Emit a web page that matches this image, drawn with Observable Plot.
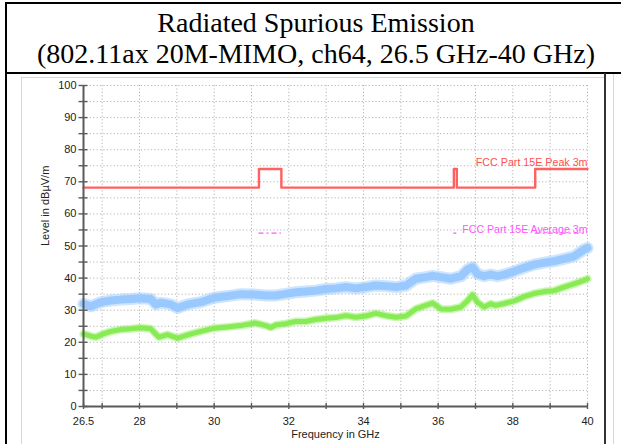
<!DOCTYPE html>
<html><head><meta charset="utf-8">
<script src="https://cdn.jsdelivr.net/npm/d3@7"></script>
<script src="https://cdn.jsdelivr.net/npm/@observablehq/plot@0.6"></script>
<style>
html,body{margin:0;padding:0;background:#fff;width:621px;height:444px;overflow:hidden;position:relative}
.ln{position:absolute}
#title{position:absolute;left:6px;top:7px;width:620px;text-align:center;font-family:"Times New Roman","Liberation Serif",serif;font-size:28px;line-height:31px;color:#000;white-space:nowrap}
#chart{position:absolute;left:0;top:76px}
</style></head><body>
<div id="chart"></div>
<div id="title">Radiated Spurious Emission<br>(802.11ax 20M-MIMO, ch64, 26.5 GHz-40 GHz)</div>
<div class="ln" style="left:5px;top:2px;width:616px;height:2px;background:#000"></div>
<div class="ln" style="left:5px;top:72px;width:616px;height:2px;background:#000"></div>
<div class="ln" style="left:5px;top:2px;width:2px;height:442px;background:#000"></div>
<div class="ln" style="left:21px;top:77px;width:1px;height:367px;background:#d8d8d8"></div>
<div class="ln" style="left:21px;top:77px;width:583px;height:1px;background:#d8d8d8"></div>
<div class="ln" style="left:604px;top:73px;width:1.5px;height:371px;background:#333"></div>
<div class="ln" style="left:613px;top:74px;width:1px;height:370px;background:#d8d8d8"></div>
<script>
// ---- data ----
const peakFreq = [26.5,26.7,26.96,27.23,27.5,27.77,28.03,28.3,28.44,28.57,28.84,29.02,29.29,29.64,30.0,30.36,30.71,31.07,31.38,31.65,31.92,32.19,32.45,32.72,32.99,33.26,33.53,33.79,34.06,34.33,34.6,34.87,35.14,35.4,35.67,35.85,36.07,36.34,36.61,36.79,36.92,37.05,37.23,37.41,37.59,37.77,38.04,38.3,38.57,38.84,39.11,39.37,39.64,39.91,40.0];
const peakLevel = [32.0,31.2,32.5,33.0,33.3,33.5,33.7,33.5,31.8,32.3,31.8,30.7,31.8,32.5,33.9,34.4,35.0,34.9,34.6,34.6,35.1,35.6,35.8,36.1,36.6,36.8,37.2,36.8,37.2,37.7,37.5,37.2,37.7,39.8,40.3,40.7,40.3,39.8,40.6,42.7,43.4,41.3,40.6,41.1,40.6,41.1,42.1,43.2,44.2,44.8,45.3,46.0,46.8,48.9,49.4];
const avgFreq = [26.5,26.7,26.83,26.96,27.23,27.5,27.77,28.03,28.3,28.52,28.75,29.02,29.29,29.64,30.0,30.36,30.71,31.1,31.38,31.52,31.65,31.92,32.19,32.45,32.72,32.99,33.26,33.53,33.79,34.06,34.33,34.6,34.87,35.14,35.4,35.67,35.85,36.07,36.34,36.61,36.79,36.92,37.05,37.23,37.41,37.54,37.77,38.04,38.3,38.57,38.84,39.11,39.37,39.64,39.91,40.0];
const avgLevel = [22.6,21.9,21.6,22.3,23.4,24.0,24.2,24.5,24.2,21.6,22.4,21.3,22.3,23.4,24.4,24.8,25.2,26.0,25.2,24.6,25.4,25.8,26.5,26.5,27.1,27.5,27.7,28.3,27.8,28.2,29.0,28.3,27.8,28.2,30.4,31.5,32.2,30.4,30.3,31.0,33.0,34.8,32.5,31.0,32.0,31.5,32.1,32.9,34.2,35.2,35.8,36.1,37.2,38.2,39.3,39.8];
const limitFreq = [26.5,31.2,31.8,36.42,36.5,38.6,40];
const peakLimit = [68.2,74,68.2,74,68.2,74,74];
const avgBandStart = [31.2,36.42,38.6];
const avgBandEnd = [31.8,36.5,40];
const avgLimit = 54;
const peakLimitLabel = "FCC Part 15E Peak 3m";
const avgLimitLabel = "FCC Part 15E Average 3m";
const xTickValues = [26.5,27,28,29,30,31,32,33,34,35,36,37,38,39,40];
const xTickLabels = [26.5,28,30,32,34,36,38,40];
const xGridValues = [27,28,29,30,31,32,33,34,35,36,37,38,39,40];
const yTickValues = [0,5,10,15,20,25,30,35,40,45,50,55,60,65,70,75,80,85,90,95,100];
const yTickLabels = [0,10,20,30,40,50,60,70,80,90,100];
const yGridValues = [5,10,15,20,25,30,35,40,45,50,55,60,65,70,75,80,85,90,95,100];
const xTitle = "Frequency in GHz";
const yTitle = "Level in dBµV/m";

const peakRows = peakFreq.map((f, i) => ({f, v: peakLevel[i]}));
const avgRows = avgFreq.map((f, i) => ({f, v: avgLevel[i]}));
const limitRows = limitFreq.map((f, i) => ({f, v: peakLimit[i]}));
const avgBands = avgBandStart.map((s, i) => ({s, e: avgBandEnd[i], v: avgLimit}));

const axisColor = "#5a5a5a";
const chart = Plot.plot({
  width: 621, height: 368,
  marginLeft: 83, marginRight: 34, marginTop: 9, marginBottom: 38,
  style: {fontFamily: "Arial, 'Liberation Sans', sans-serif", fontSize: "11px", background: "white"},
  x: {domain: [26.5, 40], label: null, axis: null},
  y: {domain: [0, 100], label: null, axis: null},
  marks: [
    Plot.gridX(xGridValues, {stroke: "#b5b5b5", strokeOpacity: 1, strokeDasharray: "1.2,2.2"}),
    Plot.gridY(yGridValues, {stroke: "#b5b5b5", strokeOpacity: 1, strokeDasharray: "1.2,2.2"}),
    Plot.line(peakRows, {x: "f", y: "v", stroke: "#a6d0ff", strokeWidth: 12, strokeOpacity: 0.55, strokeLinejoin: "round"}),
    Plot.line(peakRows, {x: "f", y: "v", stroke: "#99c9ff", strokeWidth: 8, strokeLinejoin: "round"}),
    Plot.line(avgRows, {x: "f", y: "v", stroke: "#96ef66", strokeWidth: 8, strokeOpacity: 0.5, strokeLinejoin: "round"}),
    Plot.line(avgRows, {x: "f", y: "v", stroke: "#88ea55", strokeWidth: 5, strokeLinejoin: "round"}),
    Plot.line(limitRows, {x: "f", y: "v", curve: "step-after", stroke: "#ff6060", strokeWidth: 2.4}),
    Plot.ruleY(avgBands, {x1: "s", x2: "e", y: "v", stroke: "#ff55ff", strokeWidth: 1.3, strokeDasharray: "5,3,2,3"}),
    Plot.text([peakLimitLabel], {x: limitFreq[limitFreq.length - 1], y: peakLimit[peakLimit.length - 1], text: d => d, textAnchor: "end", lineAnchor: "bottom", dy: -3, fill: "#ff5050", fontSize: 10.7}),
    Plot.text([avgLimitLabel], {x: avgBandEnd[avgBandEnd.length - 1], y: avgLimit, text: d => d, textAnchor: "end", lineAnchor: "bottom", dy: 0, fill: "#ff55ff", fontSize: 10.6}),
    Plot.ruleX([xTickValues[0]], {stroke: axisColor, strokeWidth: 2}),
    Plot.ruleY([yTickValues[0]], {stroke: axisColor, strokeWidth: 2}),
    Plot.axisY(yTickValues, {anchor: "left", tickSize: 9, dx: 4.5, stroke: axisColor, strokeWidth: 1.4, fill: "none", label: null}),
    Plot.axisX(xTickValues, {anchor: "bottom", tickSize: 6, dy: -3, stroke: axisColor, strokeWidth: 1.4, fill: "none", label: null}),
    Plot.axisY(yTickLabels, {anchor: "left", tickSize: 0, tickPadding: 7, fill: "#222", label: null, tickFormat: d => String(d), fontSize: 11}),
    Plot.axisX(xTickLabels, {anchor: "bottom", tickSize: 0, tickPadding: 11, fill: "#222", label: null, tickFormat: d => String(d), fontSize: 11}),
    Plot.text([yTitle], {frameAnchor: "left", dx: -38, rotate: -90, text: d => d, fill: "#222", fontSize: 11}),
    Plot.text([xTitle], {frameAnchor: "bottom", dy: 31, text: d => d, fill: "#222", fontSize: 11})
  ]
});
document.getElementById("chart").appendChild(chart);
</script>
</body></html>
